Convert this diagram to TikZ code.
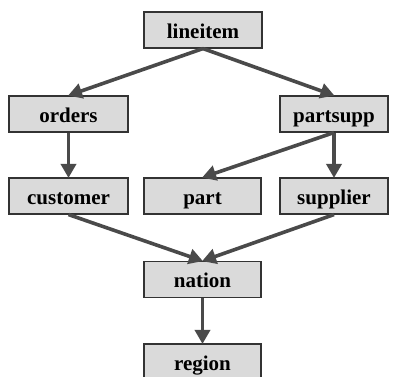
\documentclass[tikz,border=0pt]{standalone}
\usepackage{fontspec}
\newfontfamily\tblfont{Liberation Serif}[BoldFont={Liberation Serif Bold}]
\usetikzlibrary{arrows.meta}
\definecolor{boxfill}{HTML}{DADADA}
\definecolor{boxline}{HTML}{333333}
\definecolor{arrowgray}{HTML}{4A4A4A}
\tikzset{
  tbl/.style={draw=boxline, line width=1.1pt, fill=boxfill, inner sep=0pt,
    minimum height=36pt, text height=18pt, text depth=2pt,
    font=\tblfont\fontsize{21}{21}\selectfont\bfseries},
  wide/.style={tbl, minimum width=118pt},
  narrow/.style={tbl, minimum width=108pt},
  link/.style={draw=arrowgray, line width=3.6pt,
    -{Triangle[length=14pt,width=15pt]}, shorten >=-0.5pt}
}
\begin{document}
\begin{tikzpicture}[x=1pt,y=-1pt]
  \useasboundingbox (0,0) rectangle (394,376);
  \clip (0,0) rectangle (394,376);
  \node[wide]   (lineitem) at (203,30)    {lineitem};
  \node[wide, minimum width=119pt] (orders) at (68.5,114) {orders};
  \node[narrow] (partsupp) at (334,114)   {partsupp};
  \node[wide, minimum width=119pt] (customer) at (68.5,196) {customer};
  \node[wide, minimum width=117pt] (part) at (202.5,196) {part};
  \node[narrow] (supplier) at (334,196)   {supplier};
  \node[wide, minimum width=117pt] (nation) at (202.5,279.5) {nation};
  \node[wide, minimum width=117pt] (region) at (202.5,362) {region};

  \draw[link] (lineitem.south) -- (orders.north);
  \draw[link] (lineitem.south) -- (partsupp.north);
  \draw[link] (orders.south) -- (customer.north);
  \draw[link] (partsupp.south) -- (part.north);
  \draw[link] (partsupp.south) -- (supplier.north);
  \draw[link] (customer.south) -- (nation.north);
  \draw[link] (supplier.south) -- (nation.north);
  \draw[link] (nation.south) -- (region.north);
\end{tikzpicture}
\end{document}
